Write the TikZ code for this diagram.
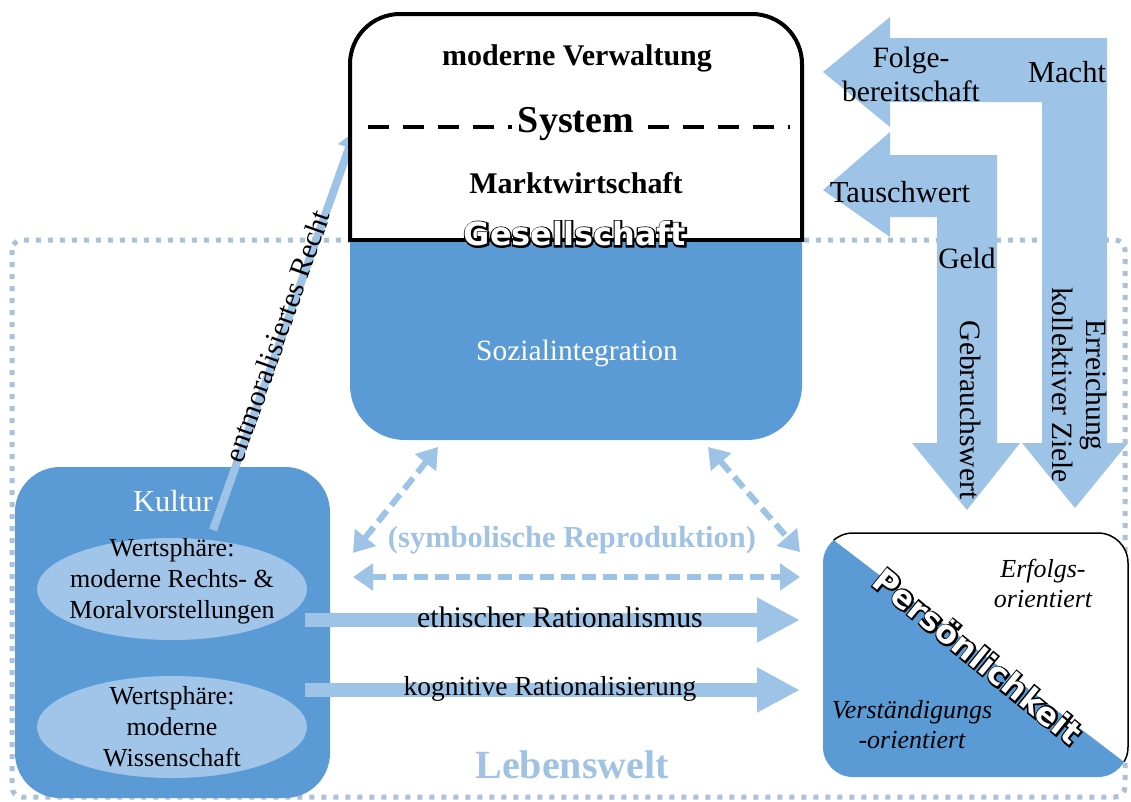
\documentclass[tikz,border=0pt]{standalone}
\usepackage{fontspec}
\setmainfont{Liberation Serif}
\newfontfamily\heavysans{DejaVu Sans}
\newfontfamily\rimsans[BoldFeatures={FakeBold=10}]{DejaVu Sans}
\usetikzlibrary{arrows.meta,shapes.geometric}

\definecolor{fillblue}{RGB}{91,155,213}
\definecolor{arrowblue}{RGB}{157,195,230}
\definecolor{ovalblue}{RGB}{160,197,232}
\definecolor{dotblue}{RGB}{172,192,214}
\definecolor{faintblue}{RGB}{160,195,228}

\tikzset{
  every node/.style={inner sep=0pt, align=center, font=\fontsize{29.5}{34}\selectfont},
  heading/.style={font=\fontsize{30}{34}\selectfont\bfseries},
  small/.style={font=\fontsize{26}{31}\selectfont},
  italiclabel/.style={font=\fontsize{26}{30}\selectfont\itshape},
  oval/.style={ellipse, fill=ovalblue, minimum width=270pt, minimum height=102pt},
  flow/.style={arrowblue, line width=14pt, -{Triangle[length=43pt,width=42pt]}},
  repro/.style={arrowblue, line width=6pt, dash pattern=on 14pt off 7pt,
    {Triangle[length=20pt,width=26pt]}-{Triangle[length=20pt,width=26pt]}},
  outlinefont/.style={font=\heavysans\bfseries\fontsize{32}{36}\selectfont},
  rimfont/.style={font=\rimsans\bfseries\fontsize{32}{36}\selectfont}
}

% white letters with a black rim: an emboldened black copy under a white one
\newcommand\outlinetext[4]{%
  \node[rimfont, text=black, rotate=#3] at #2 {#4};
  \node[outlinefont, text=white, rotate=#3] (#1) at #2 {#4};}

\begin{document}
\begin{tikzpicture}[x=1pt,y=-1pt]
\useasboundingbox[fill=white] (0,0) rectangle (1131,801);

% Lebenswelt frame
\draw[dotblue, line width=5pt, dash pattern=on 5pt off 7pt, rounded corners=10pt]
  (12,240) rectangle (1125,797);
\node[font=\fontsize{40}{42}\selectfont\bfseries, text=faintblue] (lebenswelt) at (572,765) {Lebenswelt};

% Kultur
\node[fill=fillblue, rounded corners=45pt, minimum width=315pt, minimum height=331pt] (kultur) at (172.5,632.5) {};
\node[text=white, font=\fontsize{30.5}{34}\selectfont] (kulturlabel) at (173,501) {Kultur};
\node[oval] (rechtsmoral) at (172,589) {};
\node[small] (rechtsmoraltext) at (172,581) {Wertsphäre:\\moderne Rechts- \&\\Moralvorstellungen};
\node[oval] (wissenschaft) at (172,727) {};
\node[small] (wissenschafttext) at (172,727) {Wertsphäre:\\moderne\\Wissenschaft};

% entmoralisiertes Recht
\coordinate (recht-start) at (213,530);
\coordinate (recht-end) at (355,131);
\draw[arrowblue, line width=8pt, -{Triangle[length=18pt,width=22pt]}] (recht-start) -- (recht-end);
\node[rotate=70.5] (recht) at (277,336) {entmoralisiertes Recht};

% Gesellschaft: system part (white) over social integration (blue)
\begin{scope}
  \clip (340,242) rectangle (812,450);
  \fill[fillblue, rounded corners=55pt] (350,120) rectangle (802,440);
\end{scope}
\begin{scope}
  \clip (340,0) rectangle (812,240);
  \draw[line width=4pt, fill=white, rounded corners=50pt] (350,14) rectangle (802,320);
\end{scope}
\draw[line width=4pt] (348,240) -- (804,240);
\draw[line width=4pt, dash pattern=on 21pt off 14pt] (368,127) -- (790,127);

\node[heading] (verwaltung) at (577,58) {moderne Verwaltung};
\node[font=\fontsize{38}{40}\selectfont\bfseries, fill=white, inner xsep=6pt] (system) at (576,124) {System};
\node[heading] (markt) at (576,183) {Marktwirtschaft};
\node[text=white, font=\fontsize{29.5}{34}\selectfont] (sozial) at (577,353) {Sozialintegration};
\outlinetext{gesellschaft}{(575,234)}{0}{Gesellschaft}

% media arrows
\fill[arrowblue] (823,72) -- (890,17) -- (890,38) -- (1107,38) -- (1107,443) -- (1128,443)
  -- (1075,508) -- (1022,443) -- (1042,443) -- (1042,102) -- (890,102) -- (890,127) -- cycle;
\fill[arrowblue] (823,190) -- (890,132) -- (890,155) -- (997,155) -- (997,443) -- (1020,443)
  -- (967,510) -- (912,443) -- (937,443) -- (937,217) -- (890,217) -- (890,237) -- cycle;
\node (folge) at (911,74) {Folge-\\bereitschaft};
\node[font=\fontsize{30.5}{34}\selectfont] (macht) at (1067,72) {Macht};
\node[font=\fontsize{30.5}{34}\selectfont] (tausch) at (900,192) {Tauschwert};
\node (geld) at (967,258) {Geld};
\node[rotate=-90] (gebrauch) at (971,410) {Gebrauchswert};
\node[rotate=-90] (ziele) at (1080,385) {Erreichung\\kollektiver Ziele};

% symbolic reproduction
\coordinate (soz-left) at (438,447);
\coordinate (kultur-top) at (353,553);
\coordinate (soz-right) at (708,447);
\coordinate (pers-top) at (800,552);
\coordinate (repro-left) at (353,577);
\coordinate (repro-right) at (800,577);
\draw[repro] (soz-left) -- (kultur-top);
\draw[repro] (soz-right) -- (pers-top);
\draw[repro] (repro-left) -- (repro-right);
\node[font=\fontsize{30.5}{34}\selectfont\bfseries, text=faintblue] (repro) at (572,540) {(symbolische Reproduktion)};

% rationalisation arrows
\coordinate (eth-start) at (305,620);
\coordinate (eth-end) at (800,620);
\coordinate (kog-start) at (305,690);
\coordinate (kog-end) at (800,690);
\draw[flow] (eth-start) -- (eth-end);
\draw[flow] (kog-start) -- (kog-end);
\node[font=\fontsize{29.8}{34}\selectfont] (ethisch) at (560,617) {ethischer Rationalismus};
\node[font=\fontsize{27.5}{34}\selectfont] (kognitiv) at (550,689) {kognitive Rationalisierung};

% Persoenlichkeit
\node[minimum width=305pt, minimum height=244pt] (pers) at (975.5,655) {};
\begin{scope}
  \clip[rounded corners=30pt] (823,533) rectangle (1128,777);
  \fill[white] (823,533) rectangle (1128,777);
  \fill[fillblue] (823,532) -- (1128,765) -- (1128,790) -- (810,790) -- (810,532) -- cycle;
\end{scope}
\begin{scope}
  \clip (810,522) -- (1140,774) -- (1140,510) -- (810,510) -- cycle;
  \draw[line width=1.5pt, rounded corners=30pt] (823,533) rectangle (1128,777);
\end{scope}
\node[italiclabel] (erfolg) at (1043,583) {Erfolgs-\\orientiert};
\node[italiclabel] (verstaendigung) at (912,725) {Verständigungs\\-orientiert};
\outlinetext{persoenlichkeit}{(978,656)}{-39}{Persönlichkeit}
\end{tikzpicture}
\end{document}
